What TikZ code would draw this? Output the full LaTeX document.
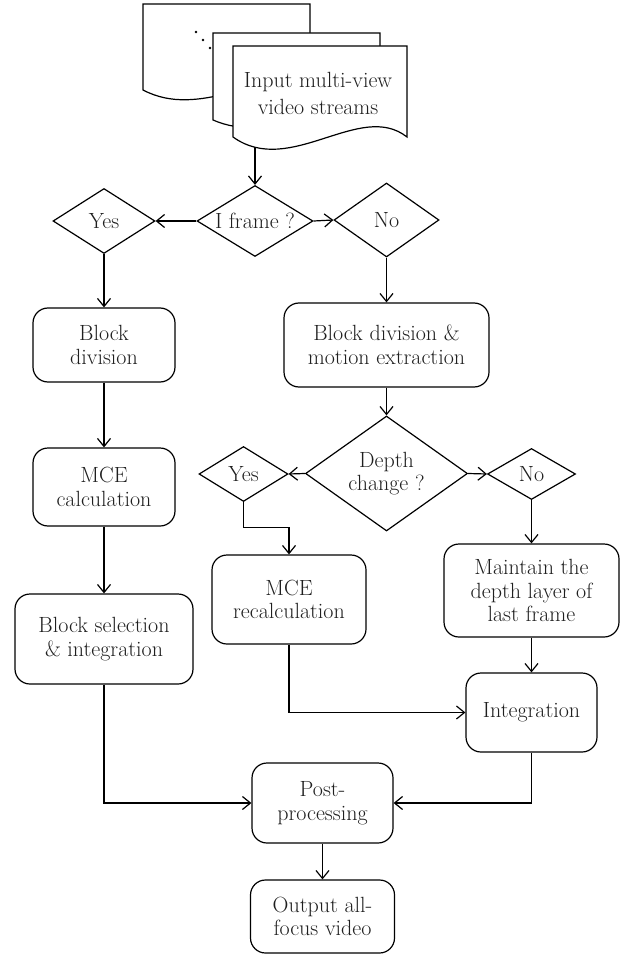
\documentclass[tikz,border=0pt]{standalone}
\usetikzlibrary{shapes.geometric,arrows.meta}
\begin{document}
\begin{tikzpicture}[x=1pt,y=-1pt,line width=1.2pt,
  txt/.style={font=\fontsize{22}{23.5}\selectfont,text=black!88,align=center},
  proc/.style={txt,draw,rounded corners=15pt,inner sep=1pt},
  decide/.style={txt,draw,diamond,inner sep=0pt},
  flow/.style={-{Straight Barb[length=8pt,width=13pt]}},
  doc/.style={draw,fill=white,line join=miter}]
\useasboundingbox (0,0) rectangle (627,957);

% stacked documents (input streams)
\path[doc] (143,4) -- (310,4) -- (310,85) .. controls (260,70) and (200,120) .. (143,90) -- cycle;
\fill (196,32) circle (1.3pt) (203,40) circle (1.3pt) (210,48) circle (1.3pt);
\path[doc] (213,33) -- (380,33) -- (380,115) .. controls (330,100) and (270,145) .. (213,120) -- cycle;
\path[doc] (233,46) -- (407,46) -- (407,137) .. controls (360,100) and (290,178) .. (233,137) -- cycle;
\node[txt,font=\fontsize{22}{27}\selectfont] (input) at (318,93) {Input multi-view\\video streams};
\coordinate (docout) at (255,147);

% decisions
\node[decide,minimum width=116pt,minimum height=71pt,shape aspect=1.63] (iframe) at (255,221) {I frame ?};
\node[decide,minimum width=102pt,minimum height=65pt,shape aspect=1.57] (yes1) at (104,221) {Yes};
\node[decide,minimum width=105pt,minimum height=74pt,shape aspect=1.42] (no1) at (386.5,220) {No};
\node[decide,minimum width=162pt,minimum height=115pt,shape aspect=1.41] (depth) at (386.5,473.5) {Depth\\change ?};
\node[decide,minimum width=89pt,minimum height=55pt,shape aspect=1.6] (yes2) at (243.5,474) {Yes};
\node[decide,minimum width=88pt,minimum height=51pt,shape aspect=1.7] (no2) at (531.5,474) {No};

% processes
\node[proc,minimum width=142pt,minimum height=74pt] (blockdiv) at (104,345) {Block\\division};
\node[proc,minimum width=142pt,minimum height=78pt] (mcecalc) at (104,487) {MCE\\calculation};
\node[proc,minimum width=178pt,minimum height=90pt] (blocksel) at (104,639) {Block selection\\\& integration};
\node[proc,minimum width=205pt,minimum height=84pt] (blockmot) at (386.5,345) {Block division \&\\motion extraction};
\node[proc,minimum width=154pt,minimum height=89pt] (mcerecalc) at (289,599.5) {MCE\\recalculation};
\node[proc,minimum width=175pt,minimum height=93pt] (maintain) at (531.5,590.5) {Maintain the\\depth layer of\\last frame};
\node[proc,minimum width=131pt,minimum height=79pt] (integ) at (531.5,712.5) {Integration};
\node[proc,minimum width=141pt,minimum height=80pt] (post) at (322.5,803) {Post-\\processing};
\node[proc,minimum width=144pt,minimum height=73pt] (output) at (322.5,916.5) {Output all-\\focus video};

% connectors
\draw[flow] (docout) -- (iframe.north);
\draw[flow] (iframe.west) -- (yes1.east);
\draw[flow] (iframe.east) -- (no1.west);
\draw[flow] (yes1.south) -- (blockdiv.north);
\draw[flow] (no1.south) -- (blockmot.north);
\draw[flow] (blockdiv.south) -- (mcecalc.north);
\draw[flow] (mcecalc.south) -- (blocksel.north);
\draw[flow] (blockmot.south) -- (depth.north);
\draw[flow] (depth.west) -- (yes2.east);
\draw[flow] (depth.east) -- (no2.west);
\draw[flow] (yes2.south) -- ++(0,25) -| (mcerecalc.north);
\draw[flow] (no2.south) -- (maintain.north);
\draw[flow] (maintain.south) -- (integ.north);
\draw[flow] (mcerecalc.south) |- (integ.west);
\draw[flow] (blocksel.south) |- (post.west);
\draw[flow] (integ.south) |- (post.east);
\draw[flow] (post.south) -- (output.north);
\end{tikzpicture}
\end{document}
